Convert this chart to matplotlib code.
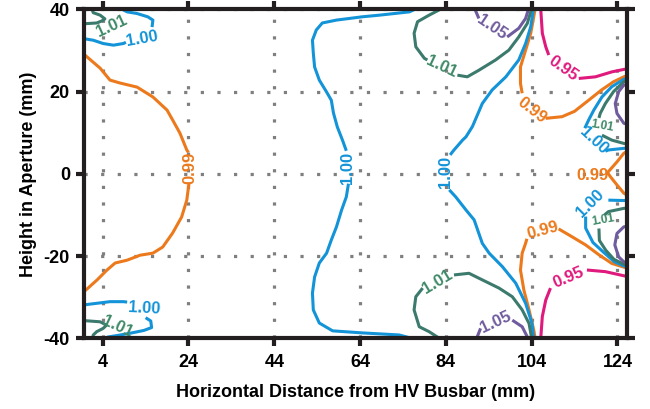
import matplotlib
matplotlib.use("Agg")
import matplotlib.pyplot as plt

plt.rcParams['font.family'] = ['Liberation Sans', 'DejaVu Sans']
plt.rcParams['font.weight'] = 'bold'
plt.rcParams['axes.unicode_minus'] = False

# colours of the contour levels
BLUE = '#1393d8'
ORANGE = '#ec7a1c'
GREEN = '#3b7a6d'
GREEN_TXT = '#3f8a68'
PURPLE = '#6f5b9e'
MAGENTA = '#e0197d'

x_ticks = [4, 24, 44, 64, 84, 104, 124]
y_ticks = [-40, -20, 0, 20, 40]

# ---- 0.99 contour (orange), segments split where the labels sit
o_left_a = [(-0.5, 29.2), (3.4, 25.7), (5.7, 22.8), (8.0, 22.1), (12.0, 21.1), (15.7, 18.7),
            (19.0, 15.5), (20.3, 13.1), (22.0, 9.9), (23.6, 5.8), (24.0, 5.2)]
o_left_b = [(24.1, -2.4), (23.6, -6.4), (22.4, -10.5), (20.3, -14.4), (18.0, -17.8), (15.7, -19.3),
            (12.7, -19.8), (9.7, -21.0), (6.9, -21.7), (5.0, -23.4), (2.7, -25.8), (-0.5, -28.8)]
o_rtop_a = [(104.9, 40.5), (103.8, 34.2), (102.6, 30.1), (101.4, 26.0), (101.4, 22.0), (101.8, 19.6)]
o_rtop_b = [(107.3, 13.5), (111.1, 13.9), (114.0, 15.2), (117.3, 17.9), (120.3, 20.4), (123.1, 22.4),
            (125.5, 23.6), (126.5, 24.0)]
o_rbot_a = [(102.9, -15.8), (102.6, -16.9), (101.8, -19.3), (101.4, -23.4), (102.2, -28.3),
            (103.4, -33.1), (104.5, -38.0), (104.9, -40.5)]
o_rbot_b = [(110.3, -13.4), (113.4, -15.3), (116.6, -17.3), (119.7, -19.7), (122.7, -21.8),
            (125.5, -22.7), (126.5, -23.0)]
o_edge = [(126.5, 5.6), (125.5, 5.0), (123.9, 2.9), (122.3, 1.0), (121.7, 0.3), (122.3, -0.6),
          (123.9, -2.7), (125.5, -4.7), (126.5, -5.4)]
o_labels = [(24.3, 1.5, 90), (104.1, 15.5, -38), (106.5, -13.9, 15), (118.1, -0.3, 0)]

# ---- 1.00 contour (blue)
b_mid_a = [(77.8, 40.5), (75.5, 39.4), (68.5, 38.6), (64.5, 38.2), (58.5, 37.4), (55.2, 36.7),
           (53.8, 35.0), (52.9, 32.5), (53.1, 29.4), (53.4, 26.0), (54.5, 22.8), (56.2, 19.9),
           (57.3, 17.9), (57.8, 14.8), (58.7, 11.4), (59.9, 8.2), (60.8, 5.6)]
b_mid_b = [(61.3, -2.4), (60.8, -5.6), (59.7, -8.8), (58.5, -12.9), (57.3, -16.1), (56.2, -19.3),
           (54.5, -21.7), (53.4, -25.1), (52.9, -29.0), (53.1, -33.1), (54.5, -36.3), (57.6, -38.2),
           (64.5, -38.7), (73.1, -39.2), (77.8, -40.5)]
b_right_a = [(104.5, 40.5), (103.8, 35.8), (102.6, 31.7), (101.0, 27.7), (98.0, 23.6), (94.8, 20.4),
             (92.5, 17.1), (90.2, 11.5), (88.7, 9.0), (87.9, 8.2), (85.9, 5.8), (85.0, 4.6)]
b_right_b = [(84.8, -3.9), (86.3, -5.6), (88.7, -8.8), (90.6, -11.2), (91.7, -14.5), (92.5, -16.9),
             (94.1, -19.3), (97.2, -22.6), (100.3, -26.6), (102.6, -31.5), (104.1, -36.4), (104.5, -40.5)]
b_etop_a = [(126.5, 23.2), (125.5, 23.0), (122.7, 21.2), (120.4, 18.7), (118.5, 15.5), (117.3, 13.1),
            (116.4, 11.1)]
b_etop_b = [(121.2, 5.5), (121.9, 5.8), (125.5, 6.2), (126.5, 6.3)]
b_ebot_a = [(126.5, -6.5), (125.5, -6.5), (121.9, -6.4)]
b_ebot_b = [(116.6, -10.4), (116.6, -13.2), (118.3, -16.7), (120.8, -19.1), (123.3, -21.4),
            (125.5, -22.4), (126.5, -22.7)]
b_tl_a = [(-0.5, 32.9), (1.8, 32.5), (4.1, 31.7), (6.5, 31.3), (8.8, 31.7), (9.4, 32.0)]
b_tl_b = [(15.5, 35.7), (15.7, 37.4), (14.5, 38.2), (12.0, 39.0), (9.7, 39.4), (7.6, 40.5)]
b_bl_a = [(-0.5, -31.9), (2.6, -31.5), (5.7, -31.1), (8.8, -31.1), (9.7, -31.2)]
b_bl_b = [(14.0, -35.0), (15.2, -35.8), (15.4, -37.4), (13.6, -38.1), (10.3, -38.8), (7.6, -39.3),
          (5.2, -39.7), (4.3, -40.5)]
b_labels = [(61.0, 1.5, 90), (84.0, 0.4, 90), (118.5, 8.0, -43), (117.7, -7.2, 45),
            (13.1, 32.9, 10), (13.8, -32.8, -3)]

# ---- 1.01 contour (green)
g_top_a = [(83.6, 40.5), (80.1, 38.6), (77.4, 37.0), (76.6, 34.2), (77.0, 30.9), (79.0, 28.1), (79.7, 27.7)]
g_top_b = [(86.7, 24.0), (89.0, 23.6), (91.7, 25.2), (95.6, 27.7), (98.7, 30.1), (101.0, 33.3),
           (103.0, 36.6), (104.1, 40.5)]
g_bot_a = [(83.2, -40.5), (80.1, -38.4), (77.8, -37.2), (76.6, -33.1), (77.0, -29.9), (78.6, -27.8)]
g_bot_b = [(85.9, -24.6), (89.4, -24.2), (92.5, -25.8), (96.4, -27.8), (99.5, -29.9), (101.8, -33.1),
           (103.4, -36.4), (104.1, -40.5)]
g_etop_a = [(126.5, 22.6), (125.5, 22.4), (123.1, 20.0), (121.2, 17.1), (120.0, 14.7), (119.7, 13.6)]
g_etop_b = [(120.4, 9.4), (122.7, 8.2), (125.5, 7.4), (126.5, 7.2)]
g_ebot_a = [(126.5, -8.3), (125.5, -8.4), (121.9, -9.2), (121.0, -10.0)]
g_ebot_b = [(119.7, -13.3), (119.8, -16.2), (121.3, -18.6), (123.2, -20.8), (125.5, -22.0), (126.5, -22.2)]
g_tl = [(-0.5, 36.5), (2.6, 36.7), (3.8, 37.2), (4.5, 37.7), (3.4, 38.6), (1.8, 39.2), (1.3, 40.5)]
g_bl = [(-0.5, -35.7), (3.4, -36.0), (4.9, -36.8), (4.1, -37.6), (2.6, -38.4), (1.8, -39.2), (1.5, -40.5)]
g_labels = [(82.9, 26.0, -25), (82.1, -26.2, 31), (6.0, 35.9, 25), (7.4, -37.2, -25)]
g_small_labels = [(120.4, 11.6, -10), (120.6, -11.2, 10)]

# ---- 1.05 contour (purple)
p_top_a = [(90.6, 40.5), (91.7, 37.8)]
p_top_b = [(98.3, 33.3), (101.0, 35.4), (102.6, 37.8), (103.4, 40.5)]
p_bot_a = [(91.0, -40.5), (92.1, -37.6)]
p_bot_b = [(99.5, -35.6), (101.8, -37.2), (103.4, -40.5)]
p_etop = [(126.5, 21.7), (125.5, 21.6), (124.3, 20.0), (123.5, 17.1), (123.9, 14.7), (125.5, 12.3), (126.5, 12.0)]
p_ebot = [(126.5, -12.7), (125.5, -12.9), (123.9, -14.5), (123.4, -17.3), (124.3, -20.2), (125.5, -21.4),
          (126.5, -21.6)]
p_labels = [(94.8, 35.6, -34), (95.6, -36.0, 25)]

# ---- 0.95 contour (magenta)
m_top_a = [(106.1, 40.5), (106.5, 34.2), (107.3, 30.9), (108.0, 28.9)]
m_top_b = [(115.0, 23.2), (118.9, 23.6), (122.7, 24.8), (125.5, 25.4), (126.5, 25.6)]
m_bot_a = [(106.1, -40.5), (106.5, -34.7), (107.3, -30.7), (108.4, -27.8)]
m_bot_b = [(116.9, -23.4), (121.2, -23.8), (125.5, -24.8), (126.5, -25.0)]
m_labels = [(111.3, 25.7, -35), (112.7, -25.2, 23)]


def draw(ax, segs, color):
    for seg in segs:
        xs, ys = zip(*seg)
        ax.plot(xs, ys, color=color, lw=2.2, solid_joinstyle='round', solid_capstyle='butt', zorder=3)


def put_labels(ax, labels, text, color, size=12):
    for x, y, rot in labels:
        ax.text(x, y, text, color=color, fontsize=size, fontweight='bold', rotation=rot,
                rotation_mode='anchor', ha='center', va='center', zorder=4)


fig = plt.figure(figsize=(6.5, 4.09), dpi=100)
ax = fig.add_axes([0.129, 0.173, 0.836, 0.804])

draw(ax, [o_left_a, o_left_b, o_rtop_a, o_rtop_b, o_rbot_a, o_rbot_b, o_edge], ORANGE)
draw(ax, [b_mid_a, b_mid_b, b_right_a, b_right_b, b_etop_a, b_etop_b, b_ebot_a, b_ebot_b,
          b_tl_a, b_tl_b, b_bl_a, b_bl_b], BLUE)
draw(ax, [g_top_a, g_top_b, g_bot_a, g_bot_b, g_etop_a, g_etop_b, g_ebot_a, g_ebot_b, g_tl, g_bl], GREEN)
draw(ax, [p_top_a, p_top_b, p_bot_a, p_bot_b, p_etop, p_ebot], PURPLE)
draw(ax, [m_top_a, m_top_b, m_bot_a, m_bot_b], MAGENTA)

put_labels(ax, o_labels, '0.99', ORANGE)
put_labels(ax, b_labels, '1.00', BLUE)
put_labels(ax, g_labels, '1.01', GREEN_TXT)
put_labels(ax, g_small_labels, '1.01', GREEN_TXT, size=8.5)
put_labels(ax, p_labels, '1.05', PURPLE)
put_labels(ax, m_labels, '0.95', MAGENTA)

ax.set_xlim(-0.4, 126.3)
ax.set_ylim(-40, 40)
ax.set_xticks(x_ticks)
ax.set_yticks(y_ticks)
ax.grid(True, color='#7f7f7f', linestyle=(0, (1, 4.2)), linewidth=2.3)
ax.set_axisbelow(True)

for sp in ax.spines.values():
    sp.set_linewidth(3)
    sp.set_color('#231f20')
    sp.set_zorder(5)
ax.tick_params(top=True, right=True, direction='out', length=6, width=3, color='#231f20',
               labelsize=13, pad=4)
ax.tick_params(axis='x', pad=5)

ax.set_xlabel('Horizontal Distance from HV Busbar (mm)', fontsize=13, fontweight='bold', labelpad=10)
ax.set_ylabel('Height in Aperture (mm)', fontsize=13, fontweight='bold', labelpad=5)

fig.savefig('out.png', dpi=100)
